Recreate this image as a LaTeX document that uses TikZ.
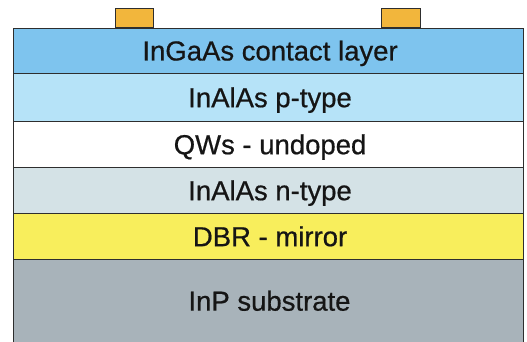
\documentclass[tikz,border=0pt]{standalone}
\usepackage{fontspec}
\setmainfont{Liberation Sans}
\newfontfamily\labelfont[FakeBold=0.6]{Liberation Sans}
\definecolor{cInGaAs}{HTML}{7EC4EE}
\definecolor{cPtype}{HTML}{B6E3F8}
\definecolor{cQW}{HTML}{FFFFFF}
\definecolor{cNtype}{HTML}{D4E2E6}
\definecolor{cDBR}{HTML}{F8EE5C}
\definecolor{cSub}{HTML}{A8B3BA}
\definecolor{cContact}{HTML}{F2B63C}
\definecolor{cEdge}{HTML}{2E2E2E}
\definecolor{cText}{HTML}{151515}
\begin{document}
\begin{tikzpicture}[x=1pt,y=-1pt,
  labeltext/.style={text=cText, font=\labelfont\fontsize{27.5}{30}\selectfont,
    text height=16.7pt, text depth=0pt},
  layerbox/.style={draw=cEdge, line width=1.1pt, anchor=north west, inner sep=0pt,
    minimum width=510pt},
  contactbox/.style={draw=cEdge, line width=0.9pt, fill=cContact, anchor=south west,
    inner sep=0pt, minimum width=38.5pt, minimum height=18.5pt}]
\useasboundingbox (0,0) rectangle (527,341);
\begin{scope}
\clip (0,0) rectangle (527,341);
\node[layerbox, fill=cSub, minimum height=95pt] (sub) at (13,259) {};
\end{scope}
\node[layerbox, fill=cDBR, minimum height=46pt] (dbr) at (13,213) {};
\node[layerbox, fill=cNtype, minimum height=46pt] (ntype) at (13,167) {};
\node[layerbox, fill=cQW, minimum height=46pt] (qw) at (13,121) {};
\node[layerbox, fill=cPtype, minimum height=48pt] (ptype) at (13,73) {};
\node[layerbox, fill=cInGaAs, minimum height=45.5pt] (ingaas) at (13,27.5) {};
\node[labeltext] (subtxt) at (269.5,302.3) {InP substrate};
\node[labeltext] (dbrtxt) at ([xshift=1.5pt,yshift=-1.3pt]dbr.center) {DBR - mirror};
\node[labeltext] (ntxt) at ([xshift=1.5pt,yshift=-1.3pt]ntype.center) {InAlAs n-type};
\node[labeltext] (qwtxt) at ([xshift=1.5pt,yshift=-1.3pt]qw.center) {QWs - undoped};
\node[labeltext] (ptxt) at ([xshift=1.5pt,yshift=-1.3pt]ptype.center) {InAlAs p-type};
\node[labeltext] (gtxt) at ([xshift=1.5pt,yshift=-1.3pt]ingaas.center) {InGaAs contact layer};
\node[contactbox] (cl) at (114.5,27.5) {};
\node[contactbox] (cr) at (381,27.5) {};
\end{tikzpicture}
\end{document}
